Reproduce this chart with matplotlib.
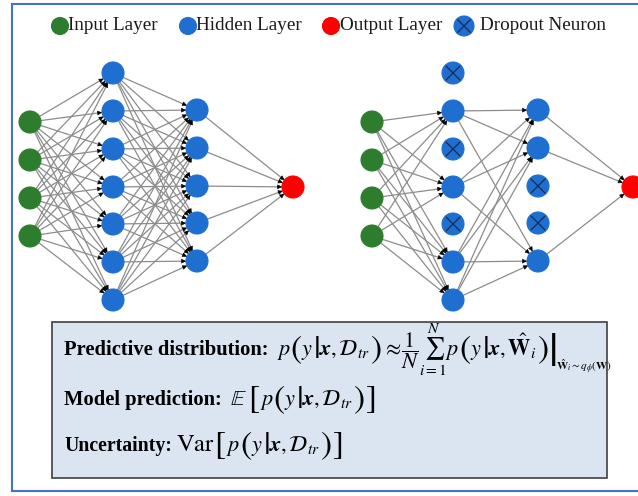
import numpy as np
import matplotlib.pyplot as plt
from matplotlib.patches import Circle, Rectangle, FancyArrowPatch
from matplotlib.collections import LineCollection

plt.rcParams['mathtext.fontset'] = 'stix'
plt.rcParams['font.family'] = ['Liberation Serif', 'DejaVu Serif']

GREEN = '#2e7d2e'
BLUE = '#1e6fd0'
RED = '#ff0000'
FRAME = '#4a72c4'

# ---- network layout (pixel coordinates of the original picture) ----
left_x = [30, 113, 197, 293]
right_x = [372, 453, 538, 633]
layer_y = [
    [122, 160, 198, 236],
    [73, 111, 149, 187, 224, 262, 300],
    [110, 148, 186, 223, 261],
    [187],
]
layer_color = [GREEN, BLUE, BLUE, RED]
# indices of dropped neurons per layer in the right-hand network
dropped = [[], [0, 2, 4], [2, 3], []]

legend_labels = ["Input Layer", "Hidden Layer", "Output Layer", "Dropout Neuron"]
legend_x = [60, 188, 331, 464]

formula_labels = ["Predictive distribution:", "Model prediction:", "Uncertainty:"]
label_sizes = [14.8, 14.8, 14.2]
formula_y = [355, 405, 451]

# math pieces: (mathtext, size factor, gap before in px, extra baseline shift in px)
BIG = 1.5
P_OPEN = [(r'$p$', 1, 0, 0), (r'$($', BIG, -1, 0), (r'$y$', 1, -1, 0), (r'$|$', BIG, 0, 0),
          (r'$\boldsymbol{x},\mathcal{D}_{tr}$', 1, -1, 0), (r'$)$', BIG, 0, 0)]
formula_pieces = [
    P_OPEN
    + [(r'$\approx$', 1, 0, 0), (r'$\dfrac{1}{N}$', 1, 0, 0), (r'$\sum_{i=1}^{N}$', 1, -1, 0),
       (r'$p$', 1, -1, 0), (r'$($', BIG, -1, 0), (r'$y$', 1, -1, 0), (r'$|$', BIG, 0, 0),
       (r'$\boldsymbol{x},\hat{\mathbf{W}}_i$', 1, -1, 0), (r'$)$', BIG, 0, 0),
       (r'$|$', 2.1, 0, 0), (r'$\hat{\mathbf{W}}_i\sim q_{\phi}(\mathbf{W})$', 0.5, -1, 16)],
    [(r'$\mathbb{E}$', 1, 0, 0), (r'$[$', BIG, 1, 0)] + P_OPEN + [(r'$]$', BIG, 0, 0)],
    [(r'$\mathrm{Var}$', 1.1, 0, 0), (r'$[$', BIG, 0, 0)] + P_OPEN + [(r'$]$', BIG, 0, 0)],
]
first_gap = [8, 8, 4]

R = 11
MATH = 16

fig = plt.figure(figsize=(6.38, 4.96), dpi=100)
ax = fig.add_axes([0, 0, 1, 1])
ax.set_xlim(0, 638)
ax.set_ylim(496, 0)
ax.axis('off')


def draw_node(x, y, color, r=R, cross=False):
    ax.add_patch(Circle((x, y), r, facecolor=color, edgecolor=color, lw=0.8, zorder=3))
    if cross:
        d = r * 0.62
        ax.plot([x - d, x + d], [y - d, y + d], color='#1a2a55', lw=0.9, zorder=4)
        ax.plot([x - d, x + d], [y + d, y - d], color='#1a2a55', lw=0.9, zorder=4)


def draw_net(xs, drop):
    segs = []
    for li in range(len(xs) - 1):
        for si, sy in enumerate(layer_y[li]):
            if si in drop[li]:
                continue
            for ti, ty in enumerate(layer_y[li + 1]):
                if ti in drop[li + 1]:
                    continue
                p0 = np.array([xs[li], sy], float)
                p1 = np.array([xs[li + 1], ty], float)
                u = (p1 - p0) / np.hypot(*(p1 - p0))
                a = p0 + u * R
                b = p1 - u * R
                segs.append([a, b])
                ax.add_patch(FancyArrowPatch(b - u * 5, b, arrowstyle='-|>', mutation_scale=7,
                                             color='black', lw=0.4, zorder=2))
    ax.add_collection(LineCollection(segs, colors='#8c8c8c', linewidths=0.9, zorder=1))
    for li, ys in enumerate(layer_y):
        for ni, y in enumerate(ys):
            draw_node(xs[li], y, layer_color[li], cross=(ni in drop[li]))


def math_row(prev, y, pieces, gap0):
    px_per_pt = 100 / 72
    for k, (s, f, gap, shift) in enumerate(pieces):
        dy = shift
        if s in (r'$($', r'$)$', r'$[$', r'$]$', r'$|$'):
            dy += (0.45 if f > 1.6 else 0.27) * (f - 1) * MATH * px_per_pt
        prev = ax.annotate(s, xy=(1, y + dy), xycoords=(prev, 'data'),
                           xytext=(gap0 if k == 0 else gap, 0), textcoords='offset pixels',
                           fontsize=MATH * f, va='baseline', ha='left', zorder=5)
    return prev


draw_net(left_x, [[], [], [], []])
draw_net(right_x, dropped)

# legend row
leg_colors = [GREEN, BLUE, RED, BLUE]
for i, (lx, lab) in enumerate(zip(legend_x, legend_labels)):
    r = 10 if i == 3 else 8.5
    draw_node(lx, 26, leg_colors[i], r=r, cross=(i == 3))
    ax.text(lx + r + (6 if i == 3 else 0), 26, lab, fontsize=13.8, va='center', ha='left',
            color='#1a1a1a')

# formula box
ax.add_patch(Rectangle((52, 322), 555, 156, facecolor='#dbe5f1', edgecolor='#404040',
                       lw=1.2, zorder=1))
for lab, fs, pieces, y, g0 in zip(formula_labels, label_sizes, formula_pieces, formula_y,
                                  first_gap):
    t = ax.text(64, y, lab, fontsize=fs, fontweight='bold', va='baseline', ha='left', zorder=5)
    math_row(t, y, pieces, g0)

# outer frame
ax.plot([12, 12], [4, 491], color=FRAME, lw=1.5)
ax.plot([12, 638], [4, 4], color=FRAME, lw=1.5)
ax.plot([12, 638], [491, 491], color=FRAME, lw=1.5)

fig.savefig('out.png', dpi=100)
